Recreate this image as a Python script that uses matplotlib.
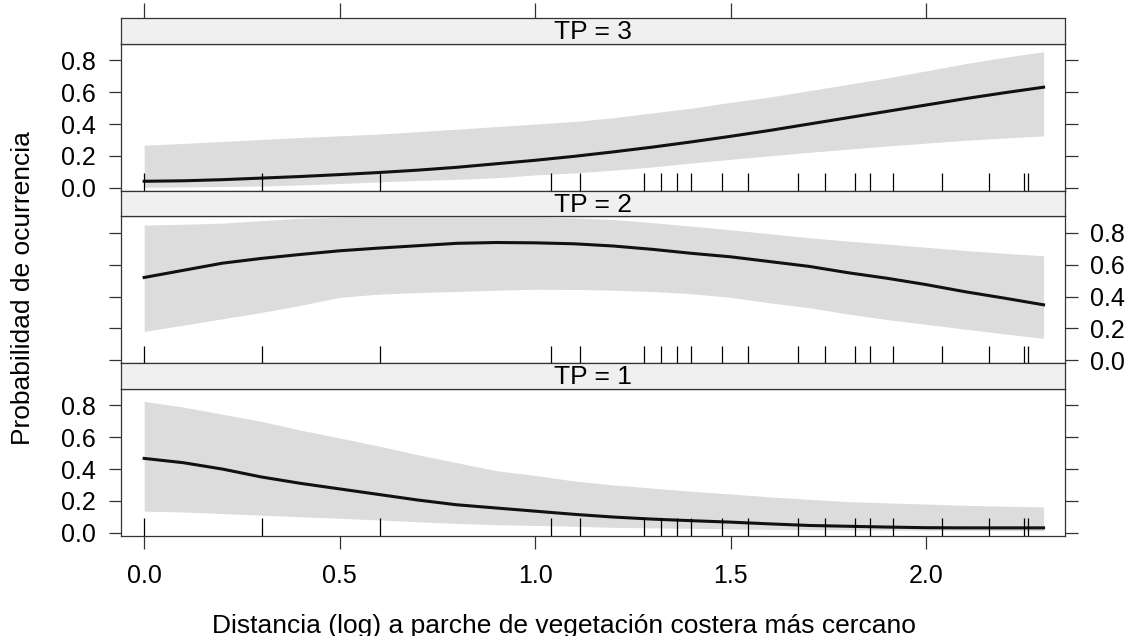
import numpy as np
import matplotlib.pyplot as plt

plt.rcParams['font.family'] = ['Liberation Sans', 'DejaVu Sans']

# distance (log10) grid of the effect curves
dist = [0.0, 0.1, 0.2, 0.3, 0.4, 0.5, 0.6, 0.7, 0.8, 0.9, 1.0, 1.1,
        1.2, 1.3, 1.4, 1.5, 1.6, 1.7, 1.8, 1.9, 2.0, 2.1, 2.2, 2.3]

# TP = 3
fit_tp3 = [0.040, 0.043, 0.050, 0.060, 0.070, 0.082, 0.095, 0.110, 0.128, 0.150, 0.172, 0.197,
           0.225, 0.255, 0.288, 0.323, 0.360, 0.400, 0.440, 0.480, 0.520, 0.560, 0.597, 0.632]
upr_tp3 = [0.267, 0.278, 0.290, 0.303, 0.315, 0.326, 0.337, 0.352, 0.368, 0.384, 0.400, 0.416,
           0.440, 0.470, 0.500, 0.537, 0.570, 0.610, 0.650, 0.690, 0.735, 0.780, 0.820, 0.855]
lwr_tp3 = [0.002, 0.004, 0.007, 0.010, 0.017, 0.026, 0.036, 0.045, 0.052, 0.062, 0.080, 0.092,
           0.110, 0.130, 0.155, 0.178, 0.200, 0.222, 0.242, 0.262, 0.280, 0.298, 0.312, 0.325]

# TP = 2
fit_tp2 = [0.520, 0.565, 0.610, 0.640, 0.665, 0.688, 0.705, 0.720, 0.735, 0.740, 0.738, 0.732,
           0.718, 0.697, 0.672, 0.650, 0.620, 0.590, 0.550, 0.515, 0.475, 0.430, 0.390, 0.348]
upr_tp2 = [0.850, 0.855, 0.862, 0.878, 0.893, 0.898, 0.900, 0.900, 0.900, 0.900, 0.900, 0.895,
           0.885, 0.865, 0.843, 0.820, 0.795, 0.770, 0.749, 0.730, 0.710, 0.690, 0.672, 0.657]
lwr_tp2 = [0.180, 0.220, 0.260, 0.300, 0.345, 0.395, 0.415, 0.425, 0.432, 0.440, 0.446, 0.445,
           0.440, 0.432, 0.418, 0.395, 0.360, 0.330, 0.290, 0.255, 0.225, 0.195, 0.165, 0.137]

# TP = 1
fit_tp1 = [0.467, 0.440, 0.400, 0.350, 0.310, 0.275, 0.240, 0.205, 0.175, 0.155, 0.135, 0.115,
           0.098, 0.085, 0.075, 0.066, 0.055, 0.045, 0.040, 0.035, 0.031, 0.030, 0.030, 0.030]
upr_tp1 = [0.826, 0.790, 0.745, 0.700, 0.645, 0.595, 0.545, 0.490, 0.440, 0.390, 0.360, 0.325,
           0.300, 0.280, 0.260, 0.243, 0.225, 0.210, 0.195, 0.187, 0.180, 0.172, 0.166, 0.162]
lwr_tp1 = [0.135, 0.130, 0.120, 0.110, 0.100, 0.090, 0.080, 0.068, 0.058, 0.050, 0.045, 0.040,
           0.033, 0.030, 0.027, 0.023, 0.021, 0.019, 0.017, 0.016, 0.015, 0.014, 0.013, 0.012]

# observed distances (rug)
rug_x = [0.0, 0.301, 0.602, 1.041, 1.114, 1.279, 1.322, 1.362, 1.398, 1.477, 1.544,
         1.672, 1.740, 1.819, 1.857, 1.914, 2.041, 2.161, 2.250, 2.260]

strips = ["TP = 3", "TP = 2", "TP = 1"]
fits = [fit_tp3, fit_tp2, fit_tp1]
uprs = [upr_tp3, upr_tp2, upr_tp1]
lwrs = [lwr_tp3, lwr_tp2, lwr_tp1]

x_ticks = [0.0, 0.5, 1.0, 1.5, 2.0]
y_ticks = [0.0, 0.2, 0.4, 0.6, 0.8]

W, H = 1129, 636
fig = plt.figure(figsize=(W / 100, H / 100), dpi=100)

left, right = 120.7, 1064.7
top0 = 18.3
strip_h, panel_h = 25.5, 147.0
frame_col = "#333333"


def box(px_top, px_h):
    return [left / W, 1 - (px_top + px_h) / H, (right - left) / W, px_h / H]


for i in range(3):
    s_top = top0 + i * (strip_h + panel_h)
    p_top = s_top + strip_h

    ax = fig.add_axes(box(p_top, panel_h))
    ax.fill_between(dist, lwrs[i], uprs[i], color="#dcdcdc", lw=0, zorder=1)
    ax.plot(dist, fits[i], color="#111111", lw=2.2, zorder=3)
    ax.vlines(rug_x, 0, 0.12, transform=ax.get_xaxis_transform(),
              color="black", lw=0.9, zorder=4)
    ax.set_xlim(-0.06, 2.354)
    ax.set_ylim(-0.02, 0.905)
    ax.set_xticks(x_ticks)
    ax.set_yticks(y_ticks)
    ax.set_xticklabels(["0.0", "0.5", "1.0", "1.5", "2.0"])
    ax.set_yticklabels(["0.0", "0.2", "0.4", "0.6", "0.8"])
    for sp in ax.spines.values():
        sp.set_color(frame_col)
        sp.set_linewidth(0.9)
    ax.tick_params(axis="y", direction="out", length=9, width=0.9, color=frame_col,
                   left=True, right=True, labelleft=(i != 1), labelright=(i == 1),
                   labelsize=18, pad=9)
    ax.tick_params(axis="x", direction="out", length=9, width=0.9, color=frame_col,
                   bottom=(i == 2), top=False, labelbottom=(i == 2), labelsize=18, pad=11)

    sax = fig.add_axes(box(s_top, strip_h))
    sax.set_facecolor("#f0f0f0")
    sax.set_xlim(-0.06, 2.354)
    sax.set_yticks([])
    for sp in sax.spines.values():
        sp.set_color(frame_col)
        sp.set_linewidth(0.9)
    if i == 0:
        sax.set_xticks(x_ticks)
        sax.tick_params(axis="x", direction="out", length=11, width=0.9, color=frame_col,
                        top=True, bottom=False, labeltop=False, labelbottom=False)
    else:
        sax.set_xticks([])
    sax.text(0.5, 0.45, strips[i], transform=sax.transAxes, ha="center", va="center",
             fontsize=19)

fig.text(23 / W, 1 - 288 / H, "Probabilidad de ocurrencia", rotation=90,
         ha="center", va="center", fontsize=19)
fig.text(564 / W, 1 - 626 / H, "Distancia (log) a parche de vegetación costera más cercano",
         ha="center", va="center", fontsize=19)

fig.savefig("out.png", dpi=100)
